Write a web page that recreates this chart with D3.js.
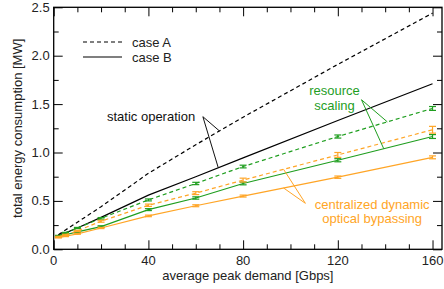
<!DOCTYPE html>
<html><head><meta charset="utf-8">
<script src="https://cdn.jsdelivr.net/npm/d3@7"></script>
<style>
html,body{margin:0;padding:0;background:#fff;}
text{font-family:"Liberation Sans",Arial,Helvetica,sans-serif;}
</style></head>
<body><svg id="c" width="444" height="289"></svg>
<script>
// ---- data ----
const demand = [2, 5, 10, 20, 40, 60, 80, 120, 160];
const staticA = [0.15, 0.20, 0.28, 0.44, 0.785, 1.08, 1.365, 1.91, 2.44];
const staticB = [0.15, 0.17, 0.22, 0.33, 0.56, 0.75, 0.945, 1.33, 1.71];
const scalingA = [0.14, 0.17, 0.22, 0.32, 0.51, 0.68, 0.855, 1.165, 1.455];
const scalingB = [0.13, 0.15, 0.18, 0.235, 0.41, 0.53, 0.68, 0.92, 1.165];
const bypassA = [0.13, 0.15, 0.19, 0.29, 0.455, 0.58, 0.715, 0.975, 1.235];
const bypassB = [0.12, 0.135, 0.16, 0.22, 0.345, 0.45, 0.55, 0.745, 0.95];
const errScalingA = [0.004, 0.005, 0.006, 0.008, 0.01, 0.012, 0.014, 0.016, 0.02];
const errScalingB = [0.004, 0.005, 0.006, 0.008, 0.01, 0.012, 0.014, 0.016, 0.02];
const errBypassA = [0.004, 0.005, 0.006, 0.01, 0.012, 0.015, 0.02, 0.025, 0.035];
const errBypassB = [0.003, 0.004, 0.005, 0.006, 0.008, 0.01, 0.01, 0.012, 0.015];
const xTicks = [0, 40, 80, 120, 160];
const yTicks = [0.0, 0.5, 1.0, 1.5, 2.0, 2.5];
const legendLabels = ["case A", "case B"];
const xLabel = "average peak demand [Gbps]";
const yLabel = "total energy consumption [MW]";

const GREEN = "#1f9e1f", ORANGE = "#ffa526", BLACK = "#000";
const DASH = "4,3";

const svg = d3.select("#c");
const L = 53.7, R = 442, T = 7.3, B = 249.3;
const x = d3.scaleLinear().domain([0, 164]).range([L, R]);
const y = d3.scaleLinear().domain([0, 2.5]).range([B, T]);

// axes (ticks inward, mirrored)
const major = 9, minor = 5;
const xMinor = d3.range(0, 165, 10).filter(v => v % 40 !== 0);
const yMinor = d3.range(0, 2.51, 0.25).filter(v => Math.abs(v*2 - Math.round(v*2)) > 1e-6);
function ax(gen, tr, vals, len) {
  const g = svg.append("g").attr("transform", tr)
    .call(gen.tickValues(vals).tickSize(len).tickPadding(0).tickFormat(() => ""));
  g.select(".domain").remove();
  g.selectAll("text").remove();
  g.selectAll("line").attr("stroke", "#000").attr("stroke-width", 1);
  return g;
}
const fx = d3.format("d"), fy = d3.format(".1f");
ax(d3.axisTop(x), `translate(0,${B})`, xTicks, major);
ax(d3.axisTop(x), `translate(0,${B})`, xMinor, minor);
ax(d3.axisBottom(x), `translate(0,${T})`, xTicks, major);
ax(d3.axisBottom(x), `translate(0,${T})`, xMinor, minor);
ax(d3.axisRight(y), `translate(${L},0)`, yTicks, major);
ax(d3.axisRight(y), `translate(${L},0)`, yMinor, minor);
ax(d3.axisLeft(y), `translate(${R},0)`, yTicks, major);
ax(d3.axisLeft(y), `translate(${R},0)`, yMinor, minor);

// tick labels
svg.append("g").selectAll("text").data(xTicks).join("text")
  .attr("x", d => x(d)).attr("y", B + 16).attr("text-anchor", "middle")
  .attr("font-size", 13).attr("fill", "#222").text(fx);
svg.append("g").selectAll("text").data(yTicks).join("text")
  .attr("x", L - 4).attr("y", d => y(d)).attr("dy", "0.35em").attr("text-anchor", "end")
  .attr("font-size", 13).attr("fill", "#222").text(fy);

// frame
svg.append("rect").attr("x", L).attr("y", T).attr("width", R - L).attr("height", B - T)
  .attr("fill", "none").attr("stroke", "#000").attr("stroke-width", 1.3);

// axis labels
svg.append("text").attr("x", (L + R) / 2).attr("y", B + 31).attr("text-anchor", "middle")
  .attr("font-size", 13).attr("fill", "#222").text(xLabel);
svg.append("text").attr("transform", `translate(22,${(T + B) / 2}) rotate(-90)`)
  .attr("text-anchor", "middle").attr("font-size", 13).attr("fill", "#222").text(yLabel);

// series
const series = [
  {v: staticA, c: BLACK, d: DASH},
  {v: staticB, c: BLACK, d: null},
  {v: scalingA, c: GREEN, d: DASH, e: errScalingA},
  {v: scalingB, c: GREEN, d: null, e: errScalingB},
  {v: bypassA, c: ORANGE, d: DASH, e: errBypassA},
  {v: bypassB, c: ORANGE, d: null, e: errBypassB},
];
const line = d3.line().x((d, i) => x(demand[i])).y(d => y(d));
const plot = svg.append("g");
series.forEach(s => {
  plot.append("path").attr("d", line(s.v)).attr("fill", "none")
    .attr("stroke", s.c).attr("stroke-width", 1.2).attr("stroke-dasharray", s.d);
  if (s.e) {
    const g = plot.append("g").attr("stroke", s.c).attr("stroke-width", 1.2);
    s.v.forEach((v, i) => {
      const cx = x(demand[i]), lo = y(v - s.e[i]), hi = y(v + s.e[i]);
      g.append("line").attr("x1", cx).attr("x2", cx).attr("y1", lo).attr("y2", hi);
      g.append("line").attr("x1", cx - 3.5).attr("x2", cx + 3.5).attr("y1", lo).attr("y2", lo);
      g.append("line").attr("x1", cx - 3.5).attr("x2", cx + 3.5).attr("y1", hi).attr("y2", hi);
    });
  }
});

// legend
const lg = svg.append("g");
legendLabels.forEach((t, i) => {
  const yy = 42 + i * 15;
  lg.append("line").attr("x1", 83).attr("x2", 122).attr("y1", yy).attr("y2", yy)
    .attr("stroke", "#000").attr("stroke-width", 1.2).attr("stroke-dasharray", i === 0 ? DASH : null);
  lg.append("text").attr("x", 132).attr("y", yy).attr("dy", "0.35em")
    .attr("font-size", 13).attr("fill", "#222").text(t);
});

// annotations (data coordinates)
const interp = (arr, xv) => d3.scaleLinear().domain(demand).range(arr)(xv);
const annotations = [
  {lines: ["static operation"], color: "#111", tx: 22.5, ty: 1.37, anchor: "start",
   apex: [63, 1.37], targets: [[staticA, 70], [staticB, 69.5]]},
  {lines: ["resource", "scaling"], color: GREEN, tx: 118.6, ty: 1.64, anchor: "middle",
   apex: [130, 1.545], targets: [[scalingA, 140.9], [scalingB, 139.4]]},
  {lines: ["centralized dynamic", "optical bypassing"], color: ORANGE, tx: 134.5, ty: 0.468, anchor: "middle",
   apex: [106.3, 0.475], targets: [[bypassA, 97.1], [bypassB, 97.1]]},
];
annotations.forEach(a => {
  a.targets.forEach(([arr, xv]) => {
    svg.append("line").attr("x1", x(a.apex[0])).attr("y1", y(a.apex[1]))
      .attr("x2", x(xv)).attr("y2", y(interp(arr, xv)))
      .attr("stroke", a.color).attr("stroke-width", 1);
  });
  a.lines.forEach((t, i) => {
    svg.append("text").attr("x", x(a.tx)).attr("y", y(a.ty) + i * 14.5).attr("dy", "0.35em")
      .attr("text-anchor", a.anchor).attr("font-size", 13).attr("fill", a.color).text(t);
  });
});
</script></body></html>
